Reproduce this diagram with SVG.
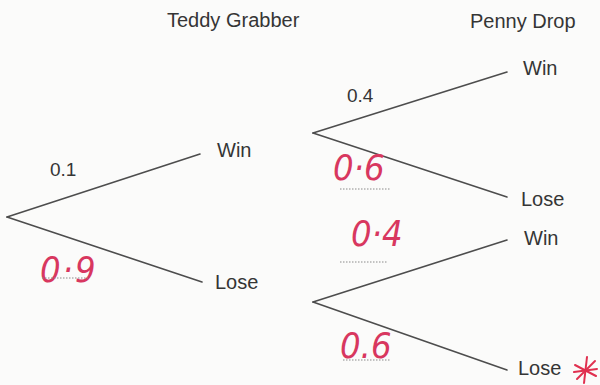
<svg xmlns="http://www.w3.org/2000/svg" width="600" height="385" viewBox="0 0 600 385">
  <style>
    .lbl { font-family: "Liberation Sans", Arial, sans-serif; font-size: 20px; fill: #353535; }
    .num { font-family: "Liberation Sans", Arial, sans-serif; font-size: 19px; fill: #353535; }
    .hand { font-family: "DejaVu Sans Condensed", "DejaVu Sans", sans-serif; font-style: italic; font-size: 36px; fill: #d8375f; }
    .edge { stroke: #4d4d4d; stroke-width: 1.6; fill: none; stroke-linecap: round; }
    .dots { stroke: #8a8a8a; stroke-width: 1; stroke-dasharray: 1.5 1.5; fill: none; }
    .mark { stroke: #e0304f; stroke-width: 2; fill: none; stroke-linecap: round; }
  </style>
  <rect width="600" height="385" fill="#fbfbfa"/>

  <g id="headers">
    <text class="lbl" x="167" y="27">Teddy Grabber</text>
    <text class="lbl" x="470" y="28">Penny Drop</text>
  </g>

  <g id="connectors">
    <line class="edge" x1="7" y1="217" x2="200" y2="154"/>
    <line class="edge" x1="7" y1="217" x2="202" y2="282"/>
    <line class="edge" x1="313" y1="133" x2="507" y2="72"/>
    <line class="edge" x1="313" y1="133" x2="507" y2="197"/>
    <line class="edge" x1="313" y1="302" x2="507" y2="240"/>
    <line class="edge" x1="313" y1="302" x2="507" y2="370"/>
  </g>

  <g id="root"></g>
  <g id="tg-win"><text class="lbl" x="217" y="157">Win</text></g>
  <g id="tg-lose"><text class="lbl" x="215" y="289">Lose</text></g>
  <g id="pd-win-1"><text class="lbl" x="523" y="75">Win</text></g>
  <g id="pd-lose-1"><text class="lbl" x="521" y="206">Lose</text></g>
  <g id="pd-win-2"><text class="lbl" x="524" y="245">Win</text></g>
  <g id="pd-lose-2">
    <text class="lbl" x="518" y="375">Lose</text>
    <g class="mark">
      <line x1="587" y1="357" x2="584" y2="383"/>
      <line x1="575" y1="365" x2="596" y2="376"/>
      <line x1="595" y1="361" x2="577" y2="379"/>
      <line x1="574" y1="372" x2="597" y2="369"/>
    </g>
  </g>

  <g id="edge-labels">
    <text class="num" x="50" y="176">0.1</text>
    <text class="num" x="347" y="102">0.4</text>

    <text class="hand" x="40" y="282" letter-spacing="2">0·9</text>
    <line class="dots" x1="42" y1="278" x2="88" y2="278"/>

    <text class="hand" x="333" y="180">0·6</text>
    <line class="dots" x1="340" y1="189" x2="390" y2="189"/>

    <text class="hand" x="351" y="246">0·4</text>
    <line class="dots" x1="340" y1="262" x2="388" y2="262"/>

    <text class="hand" x="340" y="358">0.6</text>
    <line class="dots" x1="343" y1="360" x2="390" y2="360"/>
  </g>
</svg>
